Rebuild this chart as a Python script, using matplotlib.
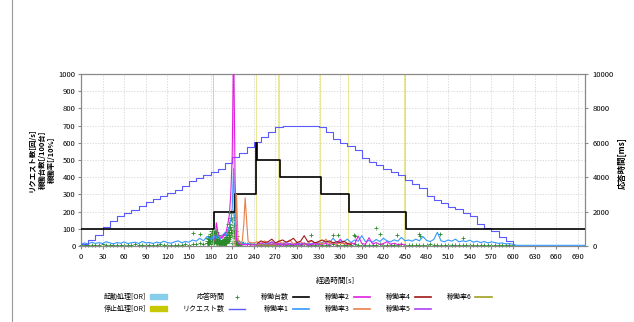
import numpy as np
import matplotlib
matplotlib.use("Agg")
import matplotlib.pyplot as plt
from matplotlib.lines import Line2D
from matplotlib.patches import Patch

plt.rcParams['font.family'] = ['Liberation Sans Narrow', 'Noto Sans CJK JP', 'DejaVu Sans']

# ---- time grids [s]
seg_a_t = np.arange(0, 180, 5)      # before scale-out
burst_t = np.arange(180, 236, 2)    # scale-out burst
seg_b_t = np.arange(240, 705, 5)    # after burst

# ---- request count [/s], one value every 10 s
req_t = np.arange(0, 610, 10)
req_v = [13, 35, 65, 110, 145, 175, 190, 210, 230, 255,
         275, 290, 310, 328, 350, 378, 395, 415, 432, 450,
         480, 515, 540, 575, 605, 635, 665, 690, 700, 700,
         700, 700, 700, 690, 660, 625, 600, 580, 560, 510,
         490, 470, 450, 430, 410, 385, 360, 340, 290, 270,
         250, 228, 215, 190, 175, 130, 105, 85, 55, 30,
         8]

# ---- running units (x100)
units_t = [0, 185, 214, 243, 245, 276, 334, 372, 451, 700]
units_v = [100, 200, 300, 600, 500, 400, 300, 200, 100, 100]

# ---- start / stop processing flags
start_t = [184, 212]
stop_t = [244, 275, 333, 372, 450]

# ---- utilisation [/10%]
util1_a = [10, 18, 12, 22, 15, 20, 14, 25, 18, 12,
           20, 16, 24, 14, 19, 22, 15, 26, 18, 21,
           14, 23, 17, 28, 20, 16, 24, 30, 19, 26,
           22, 35, 28, 45, 30, 55]
util1_burst = [40, 55, 35, 60, 45, 70, 50, 40, 65, 55,
               80, 60, 90, 110, 150, 220, 450, 120, 40, 20,
               25, 15, 20, 12, 18, 10, 15, 12]
util1_b = [12, 8, 15, 10, 18, 9, 14, 11, 16, 8, 13, 10, 20, 12, 9, 15, 11, 18, 14,
           20, 28, 18, 45, 22, 30, 25, 40, 20, 35, 28, 60, 25, 32, 22, 38, 26, 45, 30, 24, 36, 28, 50, 30,
           35, 28, 40, 30, 55, 32, 26, 38, 80, 30, 25, 35, 28, 40, 24, 30, 26, 34, 22, 28, 20, 26, 18, 24, 20, 15, 18, 12, 14, 10,
           4, 4, 4, 4, 4, 4, 4, 4, 4, 4, 4, 4, 4, 4, 4, 4, 4, 4, 4, 4]

util2_burst = [None, None, None, 30, 135, 80, 60, 50, 45, 70,
               60, 90, 130, 180, 300, 520, 1200, 380, 40, 15,
               10, 12, 8, 10, 6, 8, 10, 7]
util2_b = [6, 8, 5, 10, 7, 12, 6, 9, 5, 8, 11, 6, 9, 7, 10, 5, 8, 12, 9,
           10, 15, 8, 20, 12, 40, 14, 10, 18, 12, 58, 15, 10, 48, 12, 20, 9, 14, 25, 10, 16, 8, 12, 6]

util3_burst = [None] * 17 + [0, 300, 40, 20, 15, 30, 120, 280, 150, 30, 20]
util3_b = [18, 25, 12, 30, 15, 22, 10, 28, 14, 20, 35, 12, 18, 25, 10, 16, 30, 14, 20, 12,
           40, 15, 22, 10, 18, 12, 15, 8]

util4_b = [None, 15, 30, 20, 25, 40, 18, 28, 35, 22, 30, 45, 20, 28, 60, 25, 32, 18, 26, 35,
           22, 30, 18, 25, 20, 28, 15, 10]

util5_b = [None, 10, 18, 8, 12, 25, 10, 15, 8, 20, 12, 9, 14, 10, 18, 8, 12, 15, 10]

util6_b = [None, 5, 8, 4, 6, 3, 5]

# ---- response time [ms]
resp_t = np.arange(0, 605, 5)
resp_ms = [60, 45, 80, 55, 70, 40, 90, 65, 50, 75, 85, 45, 60, 70, 55, 95, 50, 65, 80, 40,
           70, 60, 90, 55, 75, 45, 85, 65, 50, 100, 70, 120, 90, 150, 110, 180, 130, 200, 160, 250,
           200, 300, 180, 220, 250, 150, 120, 90, 100, 80, 70, 60, 85, 55, 75, 65, 90, 50, 70, 60,
           80, 55, 95, 65, 70, 50, 85, 60, 75, 55, 90, 65, 70, 50, 80, 60, 100, 70, 55, 85,
           65, 75, 50, 90, 60, 70, 55, 80, 65, 95, 50, 70, 60, 85, 55, 75, 65, 90, 50, 70,
           60, 80, 55, 70, 65, 50, 75, 60, 85, 55, 70, 45, 65, 50, 60, 40, 55, 45, 50, 35, 30]
resp_burst_t = np.arange(176, 220)
resp_burst_ms = [300, 450, 380, 600, 520, 700, 850, 650, 900, 780,
                 600, 820, 500, 400, 650, 350, 300, 250, 200, 180,
                 250, 300, 220, 350, 400, 300, 500, 650, 800, 1000,
                 1300, 1100, 1600, 1900, 1500, 2000, 1700, 1200, 900, 600,
                 300, 200, 150, 100]
resp_burst_low_ms = [150, 200, 180, 300, 250, 350, 400, 320, 450, 380,
                     300, 400, 250, 200, 300, 180, 150, 120, 100, 90,
                     120, 150, 110, 170, 200, 150, 250, 320, 400, 500,
                     650, 550, 800, 950, 750, 1000, 850, 600, 450, 300,
                     150, 100, 80, 50]
resp_out_t = [156, 165, 320, 350, 357, 379, 381, 410, 415, 439, 469, 471, 499, 530]
resp_out_ms = [780, 670, 620, 620, 620, 650, 580, 1070, 680, 620, 680, 600, 680, 490]


def join(*parts):
    t = np.concatenate([np.asarray(tt)[:len(v)] for tt, v in parts])
    v = np.concatenate([np.array(v, dtype=float) for tt, v in parts])
    return t, v


fig = plt.figure(figsize=(6.34, 3.22), dpi=100)
fig.add_artist(Line2D([12 / 634, 12 / 634], [0, 1], transform=fig.transFigure,
                      color='#999999', lw=0.8))

ax = fig.add_axes([81 / 634, 1 - 246 / 322, 504 / 634, 172 / 322])
ax2 = ax.twinx()
ax.set_zorder(2)
ax2.set_zorder(1)
ax.patch.set_visible(False)

ymax = 1000
c_start = '#87ceeb'
c_stop = '#c8c800'
c_resp = '#2a8a2a'
c_req = '#5a5aff'
c_units = '#000000'
c_util = ['#3399ff', '#e020e0', '#e8804a', '#a01818', '#b040f0', '#a0a020']

ax.bar(start_t, ymax, width=1.4, color=c_start, alpha=0.7, linewidth=0, zorder=1)
ax.bar(stop_t, ymax, width=1.4, color=c_stop, alpha=0.4, linewidth=0, zorder=1)

# response time on the secondary axis
mk = dict(ls='none', marker='+', mew=0.6, color=c_resp)
ax2.plot(resp_t, resp_ms, ms=3.5, clip_on=False, **mk)
ax2.plot(resp_burst_t, resp_burst_ms, ms=4, **mk)
ax2.plot(resp_burst_t, resp_burst_low_ms, ms=4, **mk)
ax2.plot(resp_out_t, resp_out_ms, ms=3.5, **mk)

t1, u1 = join((seg_a_t, util1_a), (burst_t, util1_burst), (seg_b_t, util1_b))
t2, u2 = join((burst_t, util2_burst), (seg_b_t, util2_b))
t3, u3 = join((burst_t, util3_burst), (seg_b_t, util3_b))
t4, u4 = join((seg_b_t, util4_b))
t5, u5 = join((seg_b_t, util5_b))
t6, u6 = join((seg_b_t, util6_b))

ax.plot(t1, u1, color=c_util[0], lw=0.8, zorder=3)
ax.plot(req_t, req_v, color=c_req, lw=0.8, drawstyle='steps-post', zorder=4)
ax.plot(units_t, units_v, color=c_units, lw=1.2, drawstyle='steps-post', zorder=5)
for t, u, c in zip([t2, t3, t4, t5, t6], [u2, u3, u4, u5, u6], c_util[1:]):
    ax.plot(t, u, color=c, lw=0.8, zorder=6)

ax.set_xlim(0, 700)
ax.set_ylim(0, ymax)
ax2.set_ylim(0, 10000)
ax.set_xticks(range(0, 700, 30))
ax.set_yticks(range(0, 1001, 100))
ax2.set_yticks(range(0, 10001, 2000))
ax.grid(True, color='#cfcfcf', linestyle=(0, (2, 2)), linewidth=0.5)
ax.set_axisbelow(True)

for a in (ax, ax2):
    for s in a.spines.values():
        s.set_color('#888888')
        s.set_linewidth(0.8)
ax.tick_params(axis='both', labelsize=5.5, length=2, color='#888888', pad=2)
ax.tick_params(axis='x', pad=3)
ax2.tick_params(axis='y', labelsize=5.5, length=2, color='#888888', pad=3.5)

fig.text(42 / 634, 1 - 160 / 322, 'リクエスト数[回/s]\n稼働台数[/100台]\n稼働率[/10%]',
         rotation=90, ha='center', va='center', fontsize=5.3, fontweight='bold', linespacing=1.45)
fig.text(622 / 634, 1 - 163 / 322, '応答時間[ms]', rotation=90, ha='center', va='center',
         fontsize=6, fontweight='bold')
fig.text(335 / 634, 1 - 281 / 322, '経過時間[s]', ha='center', va='center', fontsize=5.5)

handles = [Patch(color=c_start), Patch(color=c_stop),
           Line2D([], [], ls='none', marker='+', ms=3, mew=0.6, color=c_resp),
           Line2D([], [], color=c_req, lw=1),
           Line2D([], [], color=c_units, lw=1.2)] + \
          [Line2D([], [], color=c, lw=1.2) for c in c_util]
labels = ['起動処理[OR]', '停止処理[OR]', '応答時間', 'リクエスト数', '稼働台数',
          '稼働率1', '稼働率2', '稼働率3', '稼働率4', '稼働率5', '稼働率6']
fig.legend(handles, labels, loc='center', bbox_to_anchor=(298 / 634, 1 - 303 / 322),
           ncol=6, markerfirst=False, frameon=False, fontsize=5, handlelength=2.4,
           handleheight=0.6, handletextpad=0.6, columnspacing=2.2, labelspacing=0.6)

fig.savefig('out.png', dpi=100)
